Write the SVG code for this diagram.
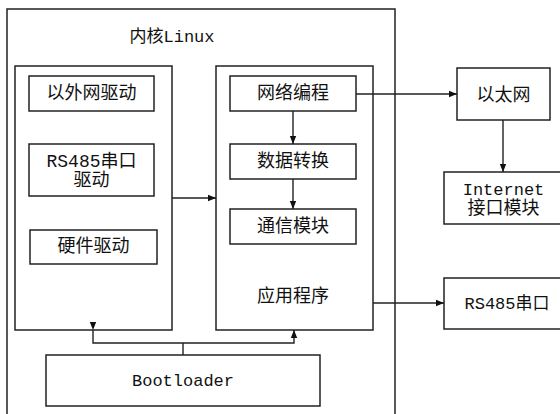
<svg xmlns="http://www.w3.org/2000/svg" width="560" height="414" viewBox="0 0 560 414">
  <style>
    .box { fill: #fff; stroke: #222; stroke-width: 1.5; }
    .frame { fill: none; stroke: #222; stroke-width: 1.5; }
    .lbl { font-family: "Liberation Mono", "Noto Sans CJK SC", monospace; font-size: 17px; fill: #111; text-anchor: middle; dominant-baseline: central; }
    .wire { fill: none; stroke: #222; stroke-width: 1.4; }
  </style>
  <defs>
    <marker id="arrow" viewBox="0 0 10 10" refX="10" refY="5" markerWidth="8" markerHeight="8" markerUnits="userSpaceOnUse" orient="auto">
      <path d="M0,1 L10,5 L0,9 Z" fill="#111"/>
    </marker>
  </defs>
  <rect width="560" height="414" fill="#fff"/>

  <!-- kernel frame, open at the bottom -->
  <g id="kernel">
    <rect class="frame" x="7" y="9" width="388" height="420"/>
    <text class="lbl" x="172" y="37">内核Linux</text>
  </g>

  <!-- driver panel -->
  <g id="drivers">
    <rect class="box" x="15" y="66" width="157" height="264"/>
  </g>
  <g id="eth-driver">
    <rect class="box" x="29" y="76" width="125" height="35"/>
    <text class="lbl" x="91.5" y="93.5" style="font-size:18px">以外网驱动</text>
  </g>
  <g id="rs485-driver">
    <rect class="box" x="29" y="144" width="125" height="52"/>
    <text class="lbl" x="91.5" y="162" style="font-size:18px">RS485串口</text>
    <text class="lbl" x="91.5" y="181" style="font-size:18px">驱动</text>
  </g>
  <g id="hw-driver">
    <rect class="box" x="30" y="230" width="127" height="34"/>
    <text class="lbl" x="93.5" y="247" style="font-size:18px">硬件驱动</text>
  </g>

  <!-- application panel -->
  <g id="app">
    <rect class="box" x="216" y="66" width="157" height="264"/>
    <text class="lbl" x="293" y="297" style="font-size:18px">应用程序</text>
  </g>
  <g id="net-prog">
    <rect class="box" x="230" y="76" width="126" height="35"/>
    <text class="lbl" x="293" y="93.5" style="font-size:18px">网络编程</text>
  </g>
  <g id="data-conv">
    <rect class="box" x="230" y="144" width="126" height="35"/>
    <text class="lbl" x="293" y="161.5" style="font-size:18px">数据转换</text>
  </g>
  <g id="comm">
    <rect class="box" x="230" y="209" width="126" height="35"/>
    <text class="lbl" x="293" y="226.5" style="font-size:18px">通信模块</text>
  </g>

  <g id="bootloader">
    <rect class="box" x="46" y="355" width="274" height="51"/>
    <text class="lbl" x="183" y="381">Bootloader</text>
  </g>

  <!-- external blocks -->
  <g id="ethernet">
    <rect class="box" x="457" y="68" width="93" height="52"/>
    <text class="lbl" x="503.5" y="95.5" style="font-size:18px">以太网</text>
  </g>
  <g id="internet">
    <rect class="box" x="444" y="172" width="125" height="52"/>
    <text class="lbl" x="503.5" y="190.5">Internet</text>
    <text class="lbl" x="503.5" y="209" style="font-size:18px">接口模块</text>
  </g>
  <g id="rs485-port">
    <rect class="box" x="444" y="278" width="125" height="51"/>
    <text class="lbl" x="507" y="304">RS485串口</text>
  </g>

  <g id="connectors">
    <line class="wire" x1="172" y1="198" x2="216" y2="198" marker-end="url(#arrow)"/>
    <line class="wire" x1="293" y1="111" x2="293" y2="144" marker-end="url(#arrow)"/>
    <line class="wire" x1="293" y1="179" x2="293" y2="209" marker-end="url(#arrow)"/>
    <line class="wire" x1="356" y1="94" x2="457" y2="94" marker-end="url(#arrow)"/>
    <line class="wire" x1="503" y1="120" x2="503" y2="172" marker-end="url(#arrow)"/>
    <line class="wire" x1="373" y1="303" x2="444" y2="303" marker-end="url(#arrow)"/>
    <line class="wire" x1="183" y1="355" x2="183" y2="343"/>
    <polyline class="wire" points="93,330 93,343 294,343 294,330" marker-start="url(#arrow)" marker-end="url(#arrow)"/>
  </g>
</svg>
